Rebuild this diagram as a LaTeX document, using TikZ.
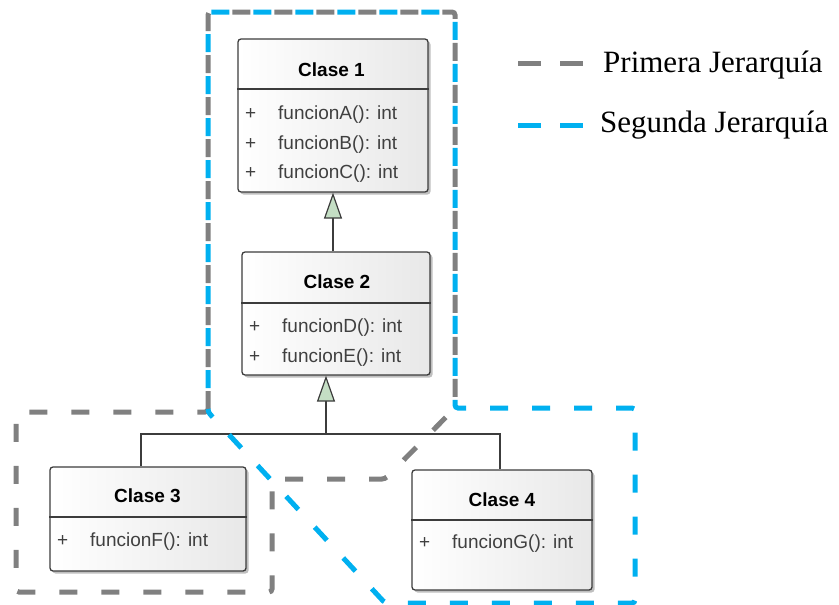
\documentclass[tikz,border=0pt]{standalone}
\usepackage{fontspec}
\setmainfont{Liberation Serif}
\setsansfont{Liberation Sans}
\usetikzlibrary{arrows.meta,shadows}

\definecolor{hierA}{HTML}{808080}
\definecolor{hierB}{HTML}{00B0F0}
\definecolor{umlline}{HTML}{3C3C3C}
\definecolor{umltext}{HTML}{404040}
\definecolor{inhfill}{HTML}{C4DEC4}

\tikzset{
  classbox/.style={draw=umlline, line width=1.3pt, rounded corners=3pt,
    left color=white, right color=black!9, inner sep=0pt,
    drop shadow={shadow xshift=2.5pt, shadow yshift=-2.5pt, opacity=0.25, fill=black}},
  classtitle/.style={font=\sffamily\bfseries\fontsize{19}{22}\selectfont, anchor=base, inner sep=0pt},
  member/.style={font=\sffamily\fontsize{19}{22}\selectfont, text=umltext, anchor=base west, inner sep=0pt},
  divider/.style={draw=umlline, line width=1.3pt},
  link/.style={draw=umlline, line width=1.2pt},
  inherit/.style={link, -{Triangle[length=26pt,width=18pt,fill=inhfill]}},
  hier/.style={line width=5pt, dash pattern=on 18pt off 24pt, rounded corners=3pt},
  legendtext/.style={font=\fontsize{31}{37}\selectfont, anchor=base west, inner sep=0pt},
}

\begin{document}
\begin{tikzpicture}[x=1pt, y=-1pt]
\useasboundingbox (0,0) rectangle (839,605);

% class boxes
\node[classbox, minimum width=190pt, minimum height=153pt] (c1) at (333,115.5) {};
\node[classbox, minimum width=188pt, minimum height=123pt] (c2) at (336,313.5) {};
\node[classbox, minimum width=196pt, minimum height=104pt] (c3) at (148,519) {};
\node[classbox, minimum width=180pt, minimum height=120pt] (c4) at (502,530) {};

% header separators
\draw[divider] (c1.west |- 0,89) -- (c1.east |- 0,89);
\draw[divider] (c2.west |- 0,303) -- (c2.east |- 0,303);
\draw[divider] (c3.west |- 0,517) -- (c3.east |- 0,517);
\draw[divider] (c4.west |- 0,520) -- (c4.east |- 0,520);

% Clase 1
\node[classtitle] (t1) at (331.5,76) {Clase 1};
\node[member] (p1a) at (245,119) {+};
\node[member] (m1a) at (278,119) {funcionA(): int};
\node[member] (p1b) at (245,149) {+};
\node[member] (m1b) at (278,149) {funcionB(): int};
\node[member] (p1c) at (245,178) {+};
\node[member] (m1c) at (278,178) {funcionC(): int};

% Clase 2
\node[classtitle] (t2) at (337,288) {Clase 2};
\node[member] (p2a) at (249,332) {+};
\node[member] (m2a) at (282,332) {funcionD(): int};
\node[member] (p2b) at (249,362) {+};
\node[member] (m2b) at (282,362) {funcionE(): int};

% Clase 3
\node[classtitle] (t3) at (147.5,502) {Clase 3};
\node[member] (p3a) at (57,546) {+};
\node[member] (m3a) at (90,546) {funcionF(): int};

% Clase 4
\node[classtitle] (t4) at (502,506) {Clase 4};
\node[member] (p4a) at (419,548) {+};
\node[member] (m4a) at (452,548) {funcionG(): int};

% generalisation links
\draw[inherit] (c1.south |- c2.north) -- (c1.south);
\coordinate (fork) at (326,434);
\draw[inherit] (fork) -- (fork |- c2.south);
\draw[link] ([xshift=-7pt]c3.north) |- (fork) -| ([xshift=-2pt]c4.north);

% hierarchy outlines (shared edges carry alternating dashes)
\draw[hier, draw=hierA] (208,412) -- (208,12) -- (455,12) -- (455,408) -- (385,479)
  -- (272,479) -- (272,592) -- (16,592) -- (16,412) -- cycle;
\draw[hier, draw=hierB, dash phase=21pt] (208,412) -- (208,12) -- (455,12) -- (455,408)
  -- (635,408) -- (635,603) -- (385,603) -- cycle;

% legend
\coordinate (lgA1) at (518,63);
\coordinate (lgA2) at (583,63);
\coordinate (lgB1) at (518,125);
\coordinate (lgB2) at (583,125);
\draw[line width=5pt, draw=hierA, dash pattern=on 23pt off 19pt] (lgA1) -- (lgA2);
\draw[line width=5pt, draw=hierB, dash pattern=on 23pt off 19pt] (lgB1) -- (lgB2);
\node[legendtext] (lt1) at (603,72) {Primera Jerarquía};
\node[legendtext] (lt2) at (600,132) {Segunda Jerarquía};
\end{tikzpicture}
\end{document}
